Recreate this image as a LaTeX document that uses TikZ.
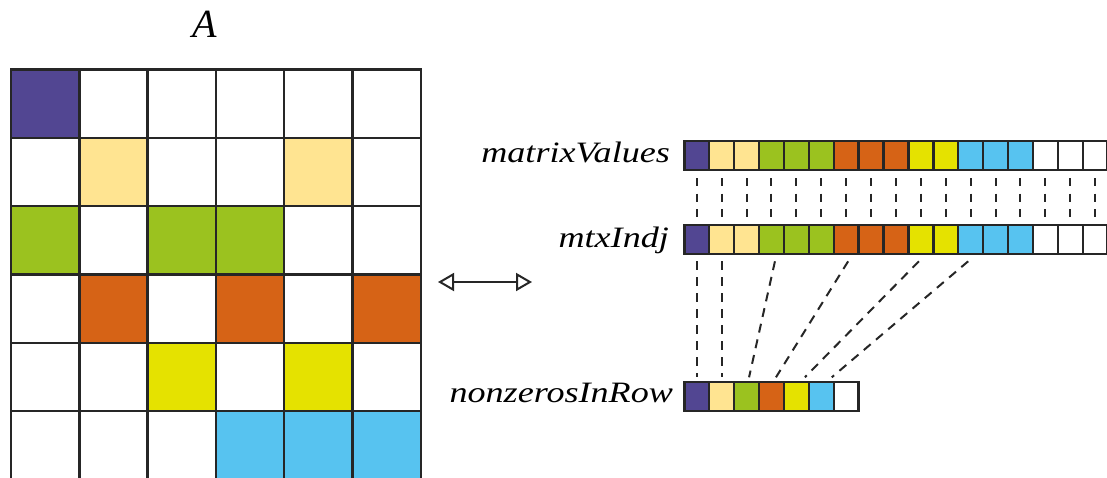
\documentclass[tikz,border=0pt]{standalone}
\usepackage{fontspec}
\setmainfont{Liberation Serif}
\newfontfamily\lblfont{Liberation Serif}[FakeStretch=1.22]
\usetikzlibrary{calc,arrows.meta}
\definecolor{cpurple}{RGB}{82,70,146}
\definecolor{cpale}{RGB}{255,228,145}
\definecolor{cgreen}{RGB}{155,194,31}
\definecolor{corange}{RGB}{214,99,22}
\definecolor{cyellow}{RGB}{229,226,0}
\definecolor{cblue}{RGB}{87,195,240}
\tikzset{ cell/.style = { draw           = black!85
                        , line width     = 1.2pt
                        , inner sep      = 0pt
                        , outer sep      = 0pt
                        , minimum width  = 34.15pt
                        , minimum height = 34.15pt
                        },
          box/.style = { draw           = black!85
                       , line width     = 1.2pt
                       , inner sep      = 0pt
                       , outer sep      = 0pt
                       , minimum width  = 12.45pt
                       , minimum height = 14.5pt
                       },
          lbl/.style = { inner sep = 0pt
                       , anchor    = base east
                       , font      = \lblfont\itshape\fontsize{14.8}{17}\selectfont
                       },
          vlink/.style = { black!85
                         , line width   = 1pt
                         , dash pattern = on 4pt off 3.75pt
                         , shorten <    = 4pt
                         , shorten >    = 2.5pt
                         },
          slink/.style = { black!85
                         , line width   = 1pt
                         , dash pattern = on 4.5pt off 3.5pt
                         }
        }
\begin{document}
\begin{tikzpicture}[x=0.5pt, y=-0.5pt]
\useasboundingbox (0,0) rectangle (1107,477);
\clip (0,0) rectangle (1107,477);
\node[font=\itshape\fontsize{20}{24}\selectfont, inner sep=0pt, anchor=base] (ta) at (205,37.7) {A};
% matrix A
\foreach \r/\cols in {0/{cpurple,white,white,white,white,white},
                      1/{white,cpale,white,white,cpale,white},
                      2/{cgreen,white,cgreen,cgreen,white,white},
                      3/{white,corange,white,corange,white,corange},
                      4/{white,white,cyellow,white,cyellow,white},
                      5/{white,white,white,cblue,cblue,cblue}}
  \foreach \col [count=\c from 0] in \cols
    \node[cell, fill=\col] (a\r\c) at (45.15+68.3*\c, 103.65+68.3*\r) {};
% value and index arrays
\foreach \col [count=\k from 0] in {cpurple,cpale,cpale,cgreen,cgreen,cgreen,corange,corange,corange,cyellow,cyellow,cblue,cblue,cblue,white,white,white} {
  \node[box, fill=\col] (mv\k) at (696.75+24.9*\k, 155.5) {};
  \node[box, fill=\col] (mi\k) at (696.75+24.9*\k, 239.3) {};
  \draw[vlink] (mv\k) -- (mi\k);
}
\foreach \col [count=\k from 0] in {cpurple,cpale,cgreen,corange,cyellow,cblue,white}
  \node[box, fill=\col] (nz\k) at (696.75+24.9*\k, 396.3) {};
\node[lbl] (lmv) at ($(mv0.west)+(-14,7.2)$) {matrixValues};
\node[lbl] (lmi) at ($(mi0.west)+(-15,8.5)$) {mtxIndj};
\node[lbl] (lnz) at ($(nz0.west)+(-11,6.2)$) {nonzerosInRow};
% row starts
\foreach \r/\k/\dt/\db in {0/0/0/0, 1/1/0/0, 2/3/3.5/2.5, 3/6/2/4.5, 4/9/-2/8.5, 5/11/-2.5/10.5}
  \draw[slink] ($(mi\k.south)+(\dt,7.5)$) -- ($(nz\r.north)+(\db,-4.5)$);
\coordinate (ar0) at (438,282);
\coordinate (ar1) at (532,282);
\draw[{Triangle[open,length=8pt,width=9pt]}-{Triangle[open,length=8pt,width=9pt]}, line width=1pt, black!85] (ar0) -- (ar1);
\end{tikzpicture}
\end{document}
